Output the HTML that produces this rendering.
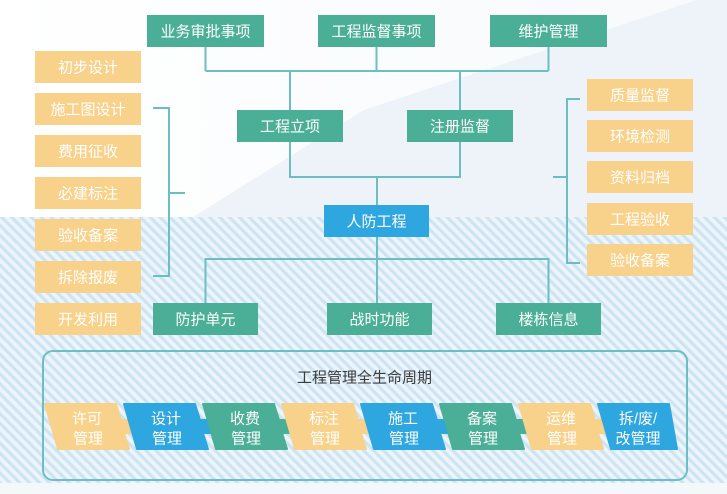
<!DOCTYPE html>
<html><head><meta charset="utf-8"><style>
html,body{margin:0;padding:0;width:727px;height:494px;overflow:hidden;background:#fff}
svg{display:block}
text{font-family:"Liberation Sans","Noto Sans CJK SC",sans-serif;font-size:15px;fill:#fff;text-anchor:middle}
</style></head><body>
<svg width="727" height="494" viewBox="0 0 727 494" xmlns="http://www.w3.org/2000/svg">
<defs>
<pattern id="hatch" width="7" height="7" patternUnits="userSpaceOnUse" patternTransform="rotate(-45)">
<rect width="7" height="7" fill="#edf5fb"/>
<rect width="3.2" height="7" fill="#cde4f4"/>
</pattern>
<linearGradient id="topg" x1="0" y1="0" x2="1" y2="0">
<stop offset="0" stop-color="#ffffff"/><stop offset="1" stop-color="#f7f9fc"/>
</linearGradient>
</defs>
<rect width="727" height="494" fill="url(#topg)"/>
<polygon points="193,217 364,110 697,0 727,0 727,217" fill="#eef3f9"/>
<rect x="0" y="217" width="727" height="266" fill="url(#hatch)"/>
<rect x="0" y="483" width="727" height="11" fill="#f3f8fa"/>

<g stroke="#6bbfc3" stroke-width="2" fill="none">
<path d="M205.5,47V71M376.5,47V71M548.5,47V71M205.5,71H548.5"/>
<path d="M290,71V110M460,71V110M290,142V177H460V142M377,177V303"/>
<path d="M205.5,303V259H548.5V303"/>
<path d="M153,108H169V276H153M169,193H185"/>
<path d="M580,99H567V263H580M567,177H553"/>
<rect x="43" y="351" width="644" height="129" rx="10" ry="10"/>
</g>

<g fill="#4bae96">
<rect x="147" y="15" width="117" height="32"/>
<rect x="318" y="15" width="117" height="32"/>
<rect x="490" y="15" width="117" height="32"/>
<rect x="237" y="110" width="106" height="32"/>
<rect x="407" y="110" width="106" height="32"/>
<rect x="153" y="303" width="105" height="32"/>
<rect x="327" y="303" width="105" height="32"/>
<rect x="496" y="303" width="105" height="32"/>
</g>
<rect x="324" y="205" width="105" height="32" fill="#2ea6e0"/>

<g fill="#f8d18a">
<rect x="35" y="51" width="106" height="32"/>
<rect x="35" y="93" width="106" height="32"/>
<rect x="35" y="135" width="106" height="32"/>
<rect x="35" y="177" width="106" height="32"/>
<rect x="35" y="219" width="106" height="32"/>
<rect x="35" y="261" width="106" height="32"/>
<rect x="35" y="303" width="106" height="32"/>
<rect x="587" y="79" width="106" height="32"/>
<rect x="587" y="120" width="106" height="32"/>
<rect x="587" y="161" width="106" height="32"/>
<rect x="587" y="203" width="106" height="32"/>
<rect x="587" y="244" width="106" height="32"/>
</g>

<text x="205.5" y="36.5">业务审批事项</text>
<text x="376.5" y="36.5">工程监督事项</text>
<text x="548.5" y="36.5">维护管理</text>
<text x="290" y="131.5">工程立项</text>
<text x="460" y="131.5">注册监督</text>
<text x="376.5" y="226.5">人防工程</text>
<text x="205.5" y="324.5">防护单元</text>
<text x="379.5" y="324.5">战时功能</text>
<text x="548.5" y="324.5">楼栋信息</text>

<text x="88" y="72.5">初步设计</text>
<text x="88" y="114.5">施工图设计</text>
<text x="88" y="156.5">费用征收</text>
<text x="88" y="198.5">必建标注</text>
<text x="88" y="240.5">验收备案</text>
<text x="88" y="282.5">拆除报废</text>
<text x="88" y="324.5">开发利用</text>
<text x="640" y="100.5">质量监督</text>
<text x="640" y="141.5">环境检测</text>
<text x="640" y="182.5">资料归档</text>
<text x="640" y="224.5">工程验收</text>
<text x="640" y="265.5">验收备案</text>

<text x="364.5" y="382.5" style="fill:#3a3a3a">工程管理全生命周期</text>

<g stroke-width="2" stroke-linejoin="round">
<g fill="#f8d18a" stroke="#f8d18a"><path d="M45,404H116L121,420H133V433H124L129,449H58Z"/></g>
<g fill="#2ea6e0" stroke="#2ea6e0"><path d="M124,404H195L200,420H212V433H203L208,449H137Z"/></g>
<g fill="#4bae96" stroke="#4bae96"><path d="M203,404H274L279,420H291V433H282L287,449H216Z"/></g>
<g fill="#f8d18a" stroke="#f8d18a"><path d="M282,404H353L358,420H370V433H361L366,449H295Z"/></g>
<g fill="#2ea6e0" stroke="#2ea6e0"><path d="M361,404H432L437,420H449V433H440L445,449H374Z"/></g>
<g fill="#4bae96" stroke="#4bae96"><path d="M440,404H511L516,420H528V433H519L524,449H453Z"/></g>
<g fill="#f8d18a" stroke="#f8d18a"><path d="M519,404H590L595,420H607V433H598L603,449H532Z"/></g>
<g fill="#2ea6e0" stroke="#2ea6e0"><path d="M598,404H669L677,449H611Z"/></g>
</g>

<text x="87" y="423.5">许可</text><text x="88" y="443.5">管理</text>
<text x="166" y="423.5">设计</text><text x="167" y="443.5">管理</text>
<text x="245" y="423.5">收费</text><text x="246" y="443.5">管理</text>
<text x="324" y="423.5">标注</text><text x="325" y="443.5">管理</text>
<text x="403" y="423.5">施工</text><text x="404" y="443.5">管理</text>
<text x="482" y="423.5">备案</text><text x="483" y="443.5">管理</text>
<text x="561" y="423.5">运维</text><text x="562" y="443.5">管理</text>
<text x="638" y="423.5">拆/废/</text><text x="638" y="443.5">改管理</text>
</svg>
</body></html>
